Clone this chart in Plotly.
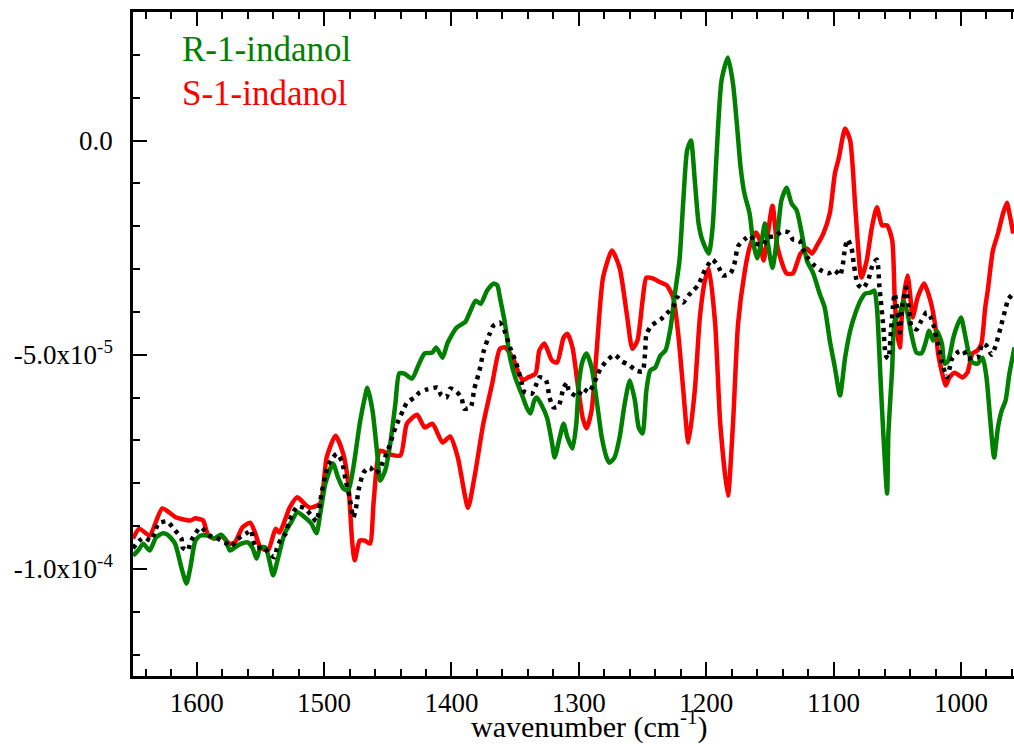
import plotly.graph_objects as go

SCALE = 1e-5  # values below are in units of 1e-5

# S-1-indanol (red)
S_WN = [1650, 1645, 1637, 1627, 1616, 1605, 1601, 1595, 1591, 1586, 1581, 1574, 1570, 1564, 1558, 1554,
        1550, 1544, 1538, 1535, 1527, 1521, 1514, 1511, 1503, 1498, 1491, 1485, 1481, 1478, 1476, 1472,
        1468, 1464, 1461, 1456, 1448, 1440, 1435, 1427, 1421, 1415, 1407, 1401, 1395, 1387, 1382, 1375,
        1368, 1362, 1358, 1352, 1348, 1344, 1340, 1334, 1331, 1327, 1321, 1317, 1312, 1309, 1305, 1301,
        1297, 1294, 1290, 1286, 1281, 1274, 1268, 1262, 1258, 1254, 1250, 1247, 1242, 1236, 1231, 1226,
        1222, 1218, 1214, 1209, 1205, 1201, 1198, 1193, 1189, 1183, 1179, 1175, 1170, 1166, 1161, 1158,
        1155, 1148, 1144, 1137, 1132, 1126, 1121, 1117, 1113, 1108, 1103, 1099, 1096, 1091, 1087, 1083,
        1079, 1078, 1074, 1070, 1066, 1062, 1058, 1054, 1052, 1050, 1048, 1046, 1042, 1040, 1038, 1034,
        1029, 1024, 1020, 1018, 1014, 1012, 1009, 1005, 999, 995, 991, 987, 984, 981, 979, 975, 971, 967,
        964, 962, 959]
S_VAL = [-9.29, -9.06, -9.22, -8.59, -8.80, -8.87, -8.82, -8.87, -9.22, -9.29, -9.22, -9.41, -9.38, -9.03, -8.92, -9.17,
         -9.50, -9.57, -9.06, -9.15, -8.57, -8.33, -8.52, -8.57, -8.47, -7.40, -6.89, -7.31, -8.01, -9.34, -9.80, -9.34,
         -9.34, -9.41, -8.40, -7.24, -7.33, -7.35, -6.61, -6.40, -6.70, -6.61, -7.05, -6.91, -7.40, -8.57, -7.87, -6.61,
         -5.67, -4.86, -4.83, -5.07, -5.37, -5.60, -5.53, -5.44, -4.90, -4.74, -5.14, -5.18, -4.60, -4.51, -4.83, -5.67,
         -6.47, -6.72, -6.30, -4.90, -3.20, -2.57, -2.97, -4.13, -4.86, -4.67, -3.74, -3.20, -3.22, -3.31, -3.38, -3.66,
         -4.51, -5.84, -7.05, -5.84, -4.13, -3.27, -2.99, -4.27, -6.61, -8.29, -6.61, -4.27, -3.10, -2.50, -2.15, -2.33,
         -2.80, -1.52, -2.50, -3.10, -3.10, -2.64, -2.52, -2.64, -2.45, -2.17, -1.70, -0.77, -0.42, 0.28, 0.00, -1.56,
         -3.10, -3.20, -2.80, -2.03, -1.56, -1.98, -1.98, -2.33, -3.74, -4.51, -4.83, -3.90, -3.15, -3.57, -4.13, -3.66,
         -3.34, -3.74, -4.37, -4.97, -5.53, -5.72, -5.53, -5.42, -5.53, -5.42, -4.97, -4.90, -4.74, -3.90, -3.50, -2.57, -2.17, -1.70,
         -1.45, -1.70, -2.17]

# R-1-indanol (green)
R_WN = [1650, 1646, 1642, 1637, 1632, 1627, 1623, 1617, 1612, 1608, 1605, 1601, 1597, 1591, 1586, 1581,
        1577, 1574, 1570, 1565, 1560, 1556, 1553, 1550, 1546, 1543, 1540, 1536, 1531, 1526, 1521, 1515,
        1510, 1506, 1503, 1499, 1493, 1489, 1485, 1481, 1477, 1472, 1468, 1466, 1462, 1458, 1456, 1452,
        1448, 1444, 1441, 1437, 1431, 1426, 1421, 1415, 1412, 1407, 1403, 1396, 1389, 1386, 1381, 1377,
        1372, 1367, 1364, 1362, 1358, 1354, 1350, 1345, 1341, 1338, 1335, 1333, 1329, 1325, 1321, 1319,
        1315, 1312, 1309, 1305, 1302, 1300, 1297, 1294, 1290, 1286, 1282, 1278, 1276, 1272, 1268, 1264,
        1260, 1256, 1253, 1250, 1247, 1244, 1240, 1236, 1232, 1228, 1225, 1221, 1218, 1215, 1212, 1209,
        1206, 1203, 1198, 1195, 1192, 1188, 1183, 1179, 1176, 1173, 1170, 1166, 1163, 1160, 1156, 1154,
        1152, 1148, 1144, 1141, 1137, 1133, 1129, 1125, 1121, 1116, 1111, 1107, 1103, 1099, 1095, 1091,
        1087, 1083, 1079, 1075, 1071, 1068, 1066, 1063, 1061, 1058, 1057, 1054, 1052, 1048, 1045, 1042,
        1039, 1035, 1031, 1028, 1025, 1022, 1019, 1015, 1013, 1010, 1006, 1003, 1000, 997, 994, 991,
        987, 983, 980, 977, 974, 971, 968, 965, 962, 958]
R_VAL = [-9.69, -9.57, -9.41, -9.57, -9.27, -9.17, -9.20, -9.41, -9.97, -10.34, -9.97, -9.34, -9.22, -9.22, -9.29, -9.20,
         -9.34, -9.57, -9.50, -9.41, -9.38, -9.52, -9.76, -9.50, -9.50, -9.80, -10.15, -9.73, -9.17, -8.92, -8.68, -8.80,
         -8.94, -9.17, -8.71, -8.01, -7.54, -7.87, -8.12, -8.17, -7.63, -6.61, -6.00, -5.77, -6.30, -7.40, -7.94, -7.70,
         -7.07, -6.14, -5.44, -5.44, -5.56, -5.25, -4.97, -4.95, -4.83, -5.07, -4.72, -4.37, -4.23, -4.04, -3.74, -3.81,
         -3.50, -3.34, -3.38, -3.66, -4.27, -5.07, -5.53, -5.91, -6.23, -6.37, -6.07, -6.00, -6.19, -6.47, -7.07, -7.40,
         -6.93, -6.61, -6.93, -7.19, -6.61, -5.67, -5.14, -4.97, -5.30, -6.07, -6.93, -7.42, -7.52, -7.40, -6.93, -6.14,
         -5.60, -6.07, -6.70, -6.84, -5.84, -5.37, -5.30, -5.02, -4.90, -4.37, -3.66, -2.80, -1.40, -0.23, 0.00, -0.93,
         -1.94, -2.33, -2.64, -2.03, -0.40, 1.40, 1.94, 1.33, 0.40, -0.63, -1.24, -1.70, -2.40, -2.75, -2.26, -1.94,
         -2.33, -2.97, -2.17, -1.40, -1.10, -1.47, -1.63, -2.17, -2.80, -3.10, -3.57, -3.90, -4.67, -5.30, -5.95, -5.07,
         -4.44, -4.04, -3.74, -3.57, -3.55, -3.50, -3.90, -5.67, -6.84, -8.24, -6.84, -5.30, -4.20, -4.04, -3.74, -4.04,
         -4.51, -4.95, -4.97, -4.74, -4.44, -4.67, -4.44, -4.74, -5.21, -5.14, -4.60, -4.32, -4.13, -4.51, -4.95, -5.18,
         -5.21, -5.07, -5.53, -6.54, -7.40, -6.70, -6.30, -6.07, -5.44, -4.83]

# dotted black trace
D_WN = [1650, 1645, 1641, 1636, 1633, 1630, 1624, 1622, 1617, 1612, 1611, 1607, 1605, 1601, 1597, 1590,
        1585, 1578, 1573, 1568, 1561, 1557, 1556, 1553, 1548, 1543, 1539, 1537, 1534, 1530, 1528, 1525,
        1521, 1515, 1510, 1506, 1502, 1499, 1497, 1493, 1490, 1486, 1483, 1480, 1477, 1475, 1473, 1469,
        1464, 1460, 1457, 1454, 1451, 1448, 1444, 1438, 1435, 1429, 1425, 1419, 1411, 1408, 1404, 1401,
        1396, 1392, 1390, 1385, 1382, 1378, 1375, 1370, 1367, 1362, 1359, 1354, 1349, 1345, 1343, 1337,
        1334, 1331, 1326, 1323, 1320, 1316, 1312, 1309, 1308, 1301, 1297, 1292, 1289, 1286, 1283, 1278,
        1272, 1266, 1261, 1255, 1250, 1248, 1247, 1243, 1236, 1231, 1226, 1223, 1218, 1214, 1210, 1206,
        1203, 1200, 1195, 1190, 1187, 1181, 1178, 1175, 1170, 1165, 1162, 1155, 1152, 1147, 1140, 1135,
        1132, 1127, 1124, 1120, 1116, 1110, 1104, 1099, 1095, 1093, 1091, 1089, 1086, 1084, 1081, 1077,
        1073, 1069, 1066, 1064, 1061, 1059, 1057, 1055, 1053, 1052, 1049, 1048, 1046, 1043, 1041, 1039,
        1035, 1031, 1027, 1024, 1021, 1018, 1015, 1011, 1009, 1007, 1002, 998, 995, 991, 987, 983,
        980, 976, 973, 969, 965, 963, 959]
D_VAL = [-9.52, -9.34, -9.27, -9.34, -9.15, -8.94, -8.89, -8.92, -9.10, -9.29, -9.50, -9.57, -9.38, -9.17, -9.03, -9.22,
         -9.27, -9.38, -9.48, -9.31, -9.17, -9.10, -9.31, -9.52, -9.48, -9.64, -9.73, -9.52, -9.31, -9.17, -8.94, -8.73,
         -8.54, -8.59, -8.75, -8.89, -8.24, -7.82, -7.59, -7.40, -7.31, -7.49, -7.94, -8.33, -8.80, -8.59, -8.17, -7.75,
         -7.63, -7.77, -7.70, -7.52, -7.31, -7.07, -6.70, -6.30, -6.12, -6.00, -5.88, -5.81, -5.77, -5.95, -6.00, -5.79,
         -5.86, -6.02, -6.26, -6.23, -5.79, -5.37, -4.95, -4.51, -4.32, -4.25, -4.39, -4.83, -5.21, -5.65, -5.86, -5.91,
         -5.74, -5.53, -5.58, -6.00, -6.23, -6.21, -5.77, -5.65, -5.84, -5.98, -5.79, -5.88, -5.72, -5.53, -5.32, -5.14,
         -5.00, -5.16, -5.23, -5.37, -5.39, -4.95, -4.53, -4.32, -4.18, -4.04, -3.88, -3.66, -3.78, -3.62, -3.50, -3.36,
         -3.15, -2.97, -2.78, -2.97, -3.15, -3.10, -2.89, -2.47, -2.31, -2.22, -2.40, -2.43, -2.26, -2.24, -2.12, -2.15,
         -2.31, -2.33, -2.54, -2.75, -2.89, -3.03, -3.10, -3.03, -3.15, -2.94, -2.50, -2.31, -2.50, -2.92, -3.36, -3.45,
         -3.27, -2.87, -2.78, -3.43, -4.34, -5.02, -5.09, -4.44, -3.74, -3.57, -4.20, -4.48, -3.85, -3.43, -3.85, -4.32,
         -4.41, -4.20, -4.01, -4.11, -4.37, -4.76, -5.18, -5.53, -5.32, -5.09, -4.93, -4.90, -5.09, -5.07, -5.07, -4.74,
         -4.79, -5.00, -4.81, -4.37, -3.92, -3.71, -3.57]

Y_TICKS = [0.0, -5e-5, -1e-4]
Y_TICKTEXT = ["0.0", "-5.0x10<sup>-5</sup>", "-1.0x10<sup>-4</sup>"]
X_TICKS = [1600, 1500, 1400, 1300, 1200, 1100, 1000]

FONT = "Liberation Serif"

fig = go.Figure()
fig.add_trace(go.Scatter(x=S_WN, y=[v * SCALE for v in S_VAL], mode="lines", name="S-1-indanol",
                         line=dict(color="#ff0000", width=4.5, shape="spline", smoothing=0.6)))
fig.add_trace(go.Scatter(x=R_WN, y=[v * SCALE for v in R_VAL], mode="lines", name="R-1-indanol",
                         line=dict(color="#008000", width=4.5, shape="spline", smoothing=0.6)))
fig.add_trace(go.Scatter(x=D_WN, y=[v * SCALE for v in D_VAL], mode="lines", name="average",
                         line=dict(color="black", width=4.5, dash="4px,5px", shape="spline", smoothing=0.6)))

fig.update_layout(
    width=1014, height=744,
    margin=dict(l=133, r=0, t=12, b=68),
    paper_bgcolor="white", plot_bgcolor="white",
    showlegend=False,
    font=dict(family=FONT, color="black", size=27),
    xaxis=dict(
        range=[1650, 958.4], autorange=False,
        tickmode="array", tickvals=X_TICKS,
        ticks="inside", ticklen=14, tickwidth=2, tickcolor="black",
        showline=True, linewidth=2.5, linecolor="black", mirror="ticks",
        showgrid=False, zeroline=False,
        tickfont=dict(family=FONT, size=27, color="black"),
        ticklabelstandoff=1,
        minor=dict(tickmode="linear", tick0=1000, dtick=20, ticks="inside", ticklen=7,
                   tickwidth=2, tickcolor="black", showgrid=False),
    ),
    yaxis=dict(
        range=[-1.25e-4, 3.0e-5], autorange=False,
        tickmode="array", tickvals=Y_TICKS, ticktext=Y_TICKTEXT,
        ticks="inside", ticklen=14, tickwidth=2, tickcolor="black",
        showline=True, linewidth=2.5, linecolor="black", mirror=False,
        showgrid=False, zeroline=False,
        tickfont=dict(family=FONT, size=27, color="black"),
        ticklabelstandoff=12,
        minor=dict(tickmode="linear", tick0=0, dtick=1e-5, ticks="inside", ticklen=7,
                   tickwidth=2, tickcolor="black", showgrid=False),
    ),
    annotations=[
        dict(text="R-1-indanol", xref="paper", yref="paper", x=0.0533, y=0.944,
             xanchor="left", yanchor="middle", showarrow=False,
             font=dict(family=FONT, size=35, color="#008000")),
        dict(text="S-1-indanol", xref="paper", yref="paper", x=0.0533, y=0.878,
             xanchor="left", yanchor="middle", showarrow=False,
             font=dict(family=FONT, size=35, color="#ff0000")),
        dict(text="wavenumber (cm<sup>-1</sup>)", xref="paper", yref="paper", x=0.518, y=-0.073,
             xanchor="center", yanchor="middle", showarrow=False,
             font=dict(family=FONT, size=30, color="black")),
    ],
)

fig.write_html("out.html")
